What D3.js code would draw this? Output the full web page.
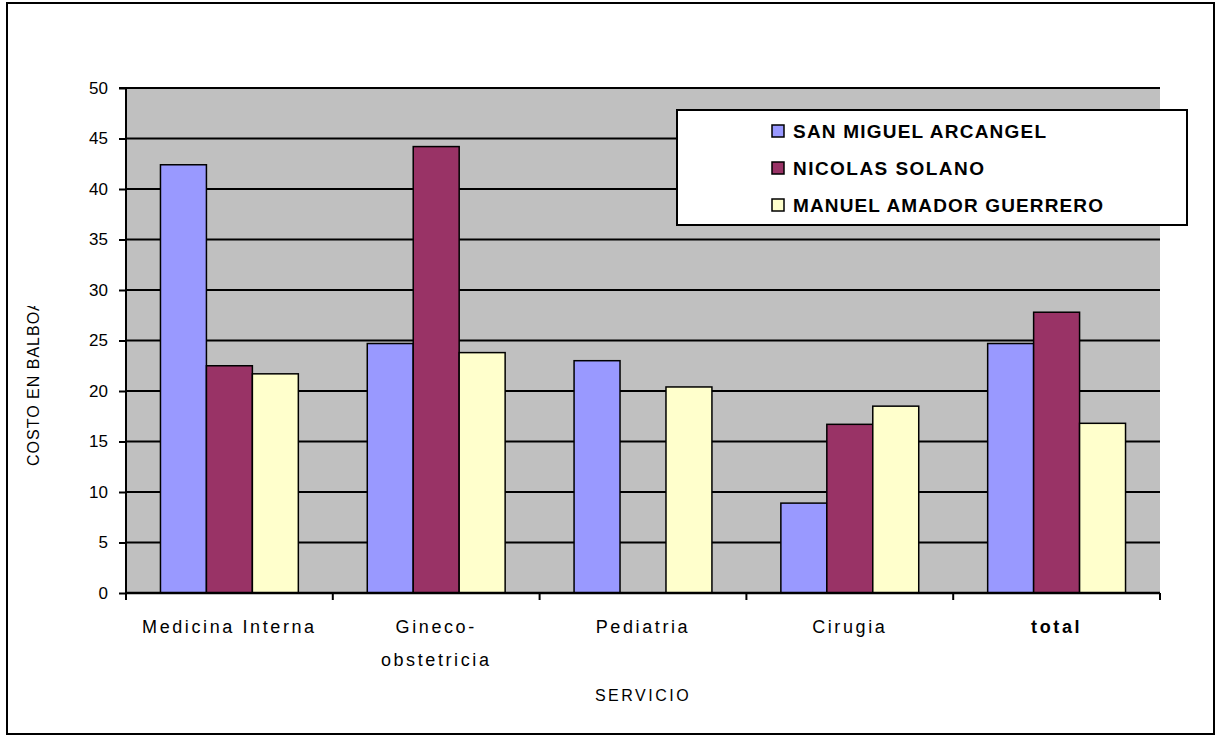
<!DOCTYPE html>
<html><head><meta charset="utf-8">
<script src="https://cdn.jsdelivr.net/npm/d3@7"></script>
<style>body{margin:0;background:#fff}svg{display:block}text{font-family:"Liberation Sans",Arial,sans-serif}</style>
</head><body>
<svg id="c" width="1218" height="737"></svg>
<script>
const categories = ["Medicina Interna", "Gineco-\nobstetricia", "Pediatria", "Cirugia", "total"];
const seriesNames = ["SAN MIGUEL ARCANGEL", "NICOLAS SOLANO", "MANUEL AMADOR GUERRERO"];
const sanMiguel = [42.4, 24.7, 23.0, 8.9, 24.7];
const nicolasSolano = [22.5, 44.2, 0, 16.7, 27.8];
const manuelAmador = [21.7, 23.8, 20.4, 18.5, 16.8];
const yTicks = [0, 5, 10, 15, 20, 25, 30, 35, 40, 45, 50];
const colors = ["#9999ff", "#993366", "#ffffcc"];
const seriesValues = [sanMiguel, nicolasSolano, manuelAmador];

const svg = d3.select("#c");
const L = 126, R = 1160, T = 88, B = 593;

// outer border
svg.append("rect").attr("x", 7).attr("y", 3).attr("width", 1207).attr("height", 731)
  .attr("fill", "#fff").attr("stroke", "#000").attr("stroke-width", 2);

const x = d3.scaleBand().domain(categories).range([L, R]).paddingInner(0).paddingOuter(0);
const xs = d3.scaleBand().domain(d3.range(3)).range([0, x.bandwidth()]).paddingOuter(0.75).paddingInner(0);
const y = d3.scaleLinear().domain([0, 50]).range([B, T]);

// plot background
svg.append("rect").attr("x", L).attr("y", T).attr("width", R - L).attr("height", B - T).attr("fill", "#c0c0c0");

// gridlines
svg.append("g").selectAll("line").data(yTicks.filter(d => d > 0)).join("line")
  .attr("x1", L).attr("x2", R).attr("y1", d => y(d)).attr("y2", d => y(d))
  .attr("stroke", "#000").attr("stroke-width", 2);

// bars
const grp = svg.append("g").selectAll("g").data(categories).join("g")
  .attr("transform", d => `translate(${x(d)},0)`);
grp.selectAll("rect").data((d, i) => seriesValues.map((s, k) => ({k, v: s[i]})).filter(e => e.v > 0)).join("rect")
  .attr("x", e => xs(e.k)).attr("width", xs.bandwidth())
  .attr("y", e => y(e.v)).attr("height", e => B - y(e.v))
  .attr("fill", e => colors[e.k]).attr("stroke", "#000").attr("stroke-width", 1.5);

// y axis
const yAxis = svg.append("g").attr("transform", `translate(${L},0)`)
  .call(d3.axisLeft(y).tickValues(yTicks).tickSize(7).tickPadding(11));
yAxis.select(".domain").attr("stroke-width", 2).attr("d", `M-7,${T}H0V${B}`);
yAxis.selectAll(".tick line").attr("stroke-width", 2);
yAxis.selectAll("text").attr("font-size", 17).attr("fill", "#000");

// x axis
const xAxis = svg.append("g").attr("transform", `translate(0,${B})`);
xAxis.append("line").attr("x1", L).attr("x2", R).attr("stroke", "#000").attr("stroke-width", 2.5);
xAxis.selectAll("line.t").data(categories.concat(["end"])).join("line").attr("class", "t")
  .attr("x1", (d, i) => L + i * x.step()).attr("x2", (d, i) => L + i * x.step())
  .attr("y1", 0).attr("y2", 7).attr("stroke", "#000").attr("stroke-width", 2);
xAxis.selectAll("text.lab").data(categories).join("text").attr("class", "lab")
  .attr("x", d => x(d) + x.bandwidth() / 2).attr("y", 40)
  .attr("text-anchor", "middle").attr("font-size", 18).attr("letter-spacing", 2.6)
  .attr("font-weight", d => d === "total" ? "bold" : "normal")
  .each(function(d) {
    const lines = d.split("\n");
    d3.select(this).selectAll("tspan").data(lines).join("tspan")
      .attr("x", x(d) + x.bandwidth() / 2).attr("dy", (l, i) => i === 0 ? 0 : 33).text(l => l);
  });

// axis titles
svg.append("text").attr("x", (L + R) / 2).attr("y", 701).attr("text-anchor", "middle")
  .attr("font-size", 16).attr("letter-spacing", 2.5).text("SERVICIO");
svg.append("clipPath").attr("id", "yclip").append("rect").attr("x", 0).attr("y", 306).attr("width", 100).attr("height", 300);
svg.append("g").attr("clip-path", "url(#yclip)").append("text")
  .attr("transform", "translate(39,466) rotate(-90)").attr("font-size", 16).attr("letter-spacing", 1)
  .text("COSTO EN BALBOA");

// legend
const lg = svg.append("g");
lg.append("rect").attr("x", 677).attr("y", 110).attr("width", 510).attr("height", 115)
  .attr("fill", "#fff").attr("stroke", "#000").attr("stroke-width", 2);
const rows = lg.selectAll("g.r").data(seriesNames).join("g").attr("class", "r")
  .attr("transform", (d, i) => `translate(772,${131 + i * 37})`);
rows.append("rect").attr("x", 0).attr("y", -6).attr("width", 12).attr("height", 12)
  .attr("fill", (d, i) => colors[i]).attr("stroke", "#000").attr("stroke-width", 1.5);
const lens = [253, 191, 310];
rows.append("text").attr("x", 21).attr("y", 7).attr("font-size", 19).attr("font-weight", "bold")
  .attr("textLength", (d, i) => lens[i]).attr("lengthAdjust", "spacing").text(d => d);
</script>
</body></html>
